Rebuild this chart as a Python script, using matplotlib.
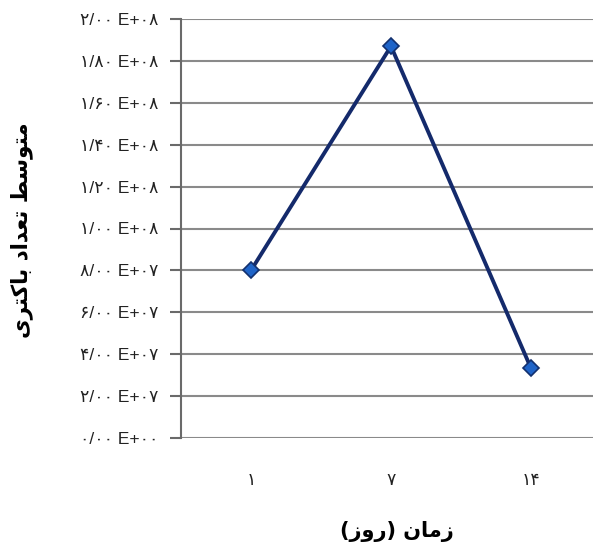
import matplotlib
matplotlib.use('Agg')
import matplotlib.pyplot as plt

# data
days = ['1', '7', '14']
mean_count = [8.0e7, 1.87e8, 3.33e7]
y_ticks = [i * 2e7 for i in range(11)]
x_title = 'زمان (روز)'
y_title = 'متوسط تعداد باکتری'

FA_DIGITS = '۰۱۲۳۴۵۶۷۸۹'

# presentation forms: isolated, final, initial, medial
FORMS = {
    'ا': ('\uFE8D', '\uFE8E', None, None),
    'ب': ('\uFE8F', '\uFE90', '\uFE91', '\uFE92'),
    'ت': ('\uFE95', '\uFE96', '\uFE97', '\uFE98'),
    'د': ('\uFEA9', '\uFEAA', None, None),
    'ر': ('\uFEAD', '\uFEAE', None, None),
    'ز': ('\uFEAF', '\uFEB0', None, None),
    'س': ('\uFEB1', '\uFEB2', '\uFEB3', '\uFEB4'),
    'ط': ('\uFEC1', '\uFEC2', '\uFEC3', '\uFEC4'),
    'ع': ('\uFEC9', '\uFECA', '\uFECB', '\uFECC'),
    'م': ('\uFEE1', '\uFEE2', '\uFEE3', '\uFEE4'),
    'ن': ('\uFEE5', '\uFEE6', '\uFEE7', '\uFEE8'),
    'و': ('\uFEED', '\uFEEE', None, None),
    'ک': ('\uFB8E', '\uFB8F', '\uFB90', '\uFB91'),
    'ی': ('\uFBFC', '\uFBFD', '\uFBFE', '\uFBFF'),
}


def shape(text):
    out = []
    for i, ch in enumerate(text):
        if ch not in FORMS:
            out.append(ch)
            continue
        iso, fin, ini, med = FORMS[ch]
        prev = text[i - 1] if i > 0 else ''
        nxt = text[i + 1] if i + 1 < len(text) else ''
        join_prev = prev in FORMS and FORMS[prev][2] is not None
        join_next = ini is not None and nxt in FORMS
        if join_prev and join_next:
            out.append(med)
        elif join_prev:
            out.append(fin)
        elif join_next:
            out.append(ini)
        else:
            out.append(iso)
    vis = ''.join(reversed(out))
    return vis.translate(str.maketrans('()', ')('))


def fa(s):
    return ''.join(FA_DIGITS[int(c)] if c.isdigit() else c for c in s)


def sci_label(v):
    if v == 0:
        return fa('0/00 E+00')
    m, e = f'{v:.2E}'.split('E')
    return fa(m.replace('.', '/') + ' E+' + f'{int(e):02d}')


fig = plt.figure(figsize=(5.93, 5.48), dpi=100)
ax = fig.add_axes([181 / 593, 110 / 548, 420 / 593, 419 / 548])

x = range(len(days))
ax.plot(x, mean_count, color='#142a6b', linewidth=2.8, marker='D', markersize=8,
        markerfacecolor='#1f64c8', markeredgecolor='#12306e', markeredgewidth=1.2, zorder=3)

ax.set_xlim(-0.5, 2.5)
ax.set_ylim(0, 2e8)
ax.set_yticks(y_ticks)
ax.set_yticklabels([sci_label(v) for v in y_ticks], family=['Liberation Sans', 'DejaVu Sans'],
                   fontsize=12.5, color='#222222')
ax.set_xticks(list(x))
ax.set_xticklabels([fa(d) for d in days], family='DejaVu Sans', fontsize=12.5, color='#222222')

ax.yaxis.grid(True, color='#8a8a8a', linewidth=1.5)
ax.set_axisbelow(True)
for s in ['top', 'right', 'bottom']:
    ax.spines[s].set_visible(False)
ax.spines['left'].set_color('#6a6a6a')
ax.spines['left'].set_linewidth(1.5)
ax.tick_params(axis='y', length=8, width=1.5, color='#6a6a6a', pad=8)
ax.tick_params(axis='x', length=0, pad=24)

fig.text(397 / 593, 1 - 532 / 548, shape(x_title), family='DejaVu Sans', fontsize=15,
         fontweight='bold', ha='center', va='center')
fig.text(22 / 593, 1 - 230 / 548, shape(y_title), family='DejaVu Sans', fontsize=15.5,
         fontweight='bold', ha='center', va='center', rotation=90)

fig.savefig('out.png', dpi=100)
